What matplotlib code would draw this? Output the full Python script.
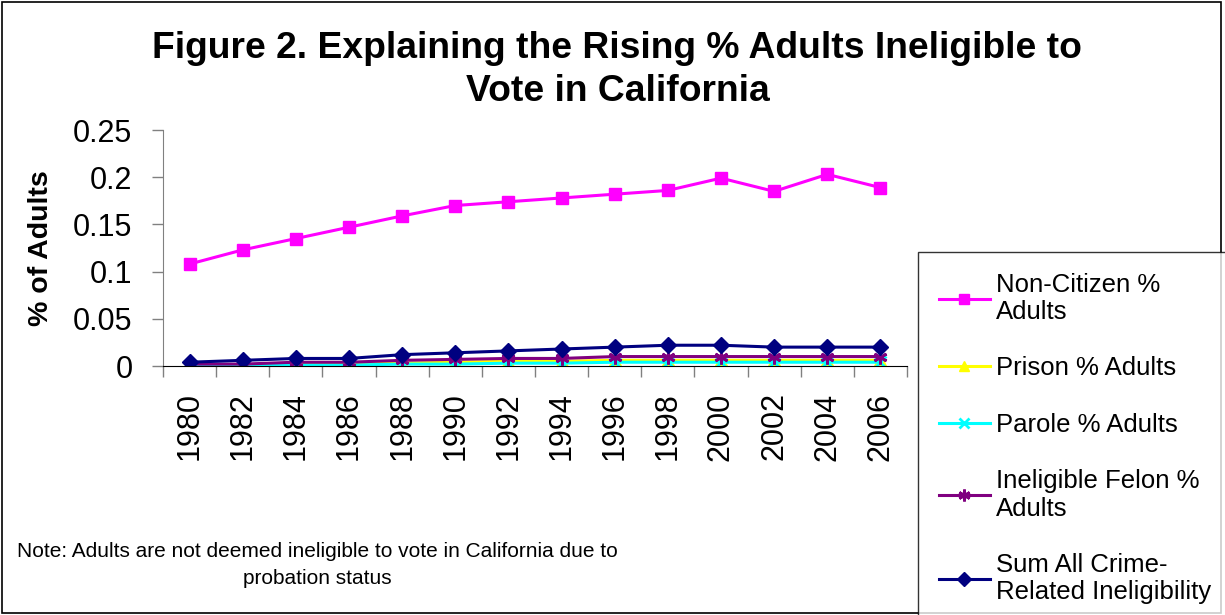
import matplotlib
matplotlib.use("Agg")
import matplotlib.pyplot as plt
from matplotlib.patches import Rectangle
import numpy as np

plt.rcParams['font.family'] = ['Liberation Sans', 'DejaVu Sans']

years = ["1980", "1982", "1984", "1986", "1988", "1990", "1992", "1994",
         "1996", "1998", "2000", "2002", "2004", "2006"]
non_citizen = [0.108, 0.123, 0.135, 0.147, 0.159, 0.170, 0.174, 0.178,
               0.182, 0.186, 0.199, 0.185, 0.203, 0.189]
prison = [0.001, 0.001, 0.002, 0.002, 0.003, 0.004, 0.005, 0.005,
          0.006, 0.006, 0.006, 0.006, 0.006, 0.006]
parole = [0.0005, 0.0005, 0.001, 0.001, 0.002, 0.002, 0.003, 0.003,
          0.004, 0.004, 0.004, 0.004, 0.004, 0.004]
felon = [0.002, 0.002, 0.004, 0.004, 0.006, 0.007, 0.008, 0.008,
         0.010, 0.010, 0.010, 0.010, 0.010, 0.010]
sum_crime = [0.004, 0.006, 0.008, 0.008, 0.012, 0.014, 0.016, 0.018,
             0.020, 0.022, 0.022, 0.020, 0.020, 0.020]
y_ticks = [0, 0.05, 0.1, 0.15, 0.2, 0.25]
y_tick_labels = ["0", "0.05", "0.1", "0.15", "0.2", "0.25"]

fig = plt.figure(figsize=(12.25, 6.15), dpi=100)
ax = fig.add_axes([163 / 1225, 1 - 366 / 615, 744 / 1225, 236 / 615])
x = np.arange(len(years))

h1, = ax.plot(x, non_citizen, color='#FF00FF', lw=2.2, marker='s', ms=8,
              label='Non-Citizen %\nAdults')
h2, = ax.plot(x, prison, color='#FFFF00', lw=2.2, marker='^', ms=8,
              label='Prison % Adults')
h3, = ax.plot(x, parole, color='#00FFFF', lw=2.2, marker='x', ms=8, mew=2,
              label='Parole % Adults')
h4, = ax.plot(x, felon, color='#800080', lw=2.2, marker=(6, 2, 0), ms=10, mew=2,
              label='Ineligible Felon %\nAdults')
h5, = ax.plot(x, sum_crime, color='#000080', lw=2.2, marker='D', ms=8.5,
              label='Sum All Crime-\nRelated Ineligibility')

ax.set_xlim(-0.5, len(years) - 0.5)
ax.set_ylim(0, 0.25)
ax.set_yticks(y_ticks)
ax.set_yticklabels(y_tick_labels, fontsize=22)
ax.set_xticks(x)
ax.set_xticklabels(years, rotation=90, fontsize=22)
ax.set_xticks(np.arange(len(years) + 1) - 0.5, minor=True)
ax.tick_params(axis='x', which='major', length=0, pad=19)
ax.tick_params(axis='x', which='minor', length=8, direction='out', width=1, color='#808080')
ax.tick_params(axis='y', length=8, direction='out', width=1, color='#808080', pad=14)
for s in ['top', 'right']:
    ax.spines[s].set_visible(False)
ax.spines['left'].set_color('#808080')
ax.spines['bottom'].set_color('#000000')
ax.set_ylabel('% of Adults', fontsize=20.5, fontweight='bold')
ax.yaxis.set_label_coords(-0.146, 0.5)

fig.text(0.504, 1 - 70 / 615, 'Figure 2. Explaining the Rising % Adults Ineligible to\nVote in California',
         ha='center', va='center', fontsize=26.8, fontweight='bold', linespacing=1.3)

leg = fig.legend(handles=[h1, h2, h3, h4, h5], loc='upper left',
                 bbox_to_anchor=(918 / 1225, 1 - 252 / 615), fontsize=18.5,
                 frameon=True, fancybox=False, edgecolor='black',
                 labelspacing=1.25, handlelength=2.0, handletextpad=0.25,
                 borderpad=0.8, borderaxespad=0, markerscale=0.85)
leg.get_frame().set_linewidth(1)

fig.text(0.259, 1 - 565 / 615, 'Note: Adults are not deemed ineligible to vote in California due to\nprobation status',
         ha='center', va='center', fontsize=15, linespacing=1.5)

fig.patches.append(Rectangle((0.002, 0.003), 0.995, 0.994, transform=fig.transFigure,
                             fill=False, edgecolor='black', lw=1.2))

fig.savefig('out.png', dpi=100)
